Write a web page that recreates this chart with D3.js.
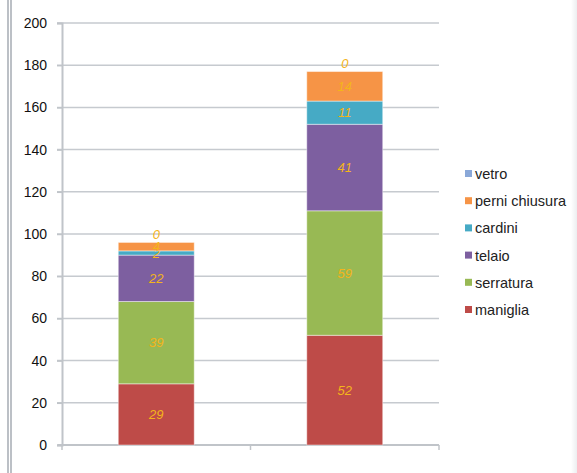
<!DOCTYPE html>
<html>
<head>
<meta charset="utf-8">
<script src="https://cdn.jsdelivr.net/npm/d3@7"></script>
<style>
    html, body { margin: 0; padding: 0; background: #fff; }
    #chart { width: 577px; height: 473px; }
</style>
</head>
<body>
<div id="chart"></div>
<script>
// chart data
const categories = ["1", "2"];
const seriesNames = ["maniglia", "serratura", "telaio", "cardini", "perni chiusura", "vetro"];
const maniglia = [29, 52];
const serratura = [39, 59];
const telaio = [22, 41];
const cardini = [2, 11];
const perni = [4, 14];
const vetro = [0, 0];
const yTicks = [0, 20, 40, 60, 80, 100, 120, 140, 160, 180, 200];

const seriesColors = ["#be4b48", "#98b954", "#7d5fa0", "#46aac5", "#f69446", "#8aa8d8"];
const seriesValues = [maniglia, serratura, telaio, cardini, perni, vetro];

const width = 577, height = 473;
const margin = { top: 23, right: 138, bottom: 28, left: 62 };
const innerWidth = width - margin.left - margin.right;
const innerHeight = height - margin.top - margin.bottom;

// build rows for d3.stack
const rows = categories.map((c, i) => {
    const row = { cat: c };
    seriesNames.forEach((s, j) => { row[s] = seriesValues[j][i]; });
    return row;
});
const stacked = d3.stack().keys(seriesNames)(rows);

const svg = d3.select("#chart")
    .append("svg")
    .attr("width", width)
    .attr("height", height)
    .style("font-family", "'Liberation Sans', Arial, sans-serif");

svg.append("rect").attr("width", width).attr("height", height).attr("fill", "#fff");

// faint shading on the right edge
const grad = svg.append("defs").append("linearGradient").attr("id", "edge");
grad.append("stop").attr("offset", "0%").attr("stop-color", "#fff");
grad.append("stop").attr("offset", "100%").attr("stop-color", "#eceef0");
svg.append("rect").attr("x", 571).attr("width", 6).attr("height", height).attr("fill", "url(#edge)");

// double line on the left edge
[8, 11].forEach(x => {
    svg.append("line")
        .attr("x1", x).attr("x2", x)
        .attr("y1", 0).attr("y2", height)
        .attr("stroke", "#bcc0c6")
        .attr("stroke-width", 2);
});

const chart = svg.append("g")
    .attr("transform", `translate(${margin.left}, ${margin.top})`);

const x = d3.scaleBand()
    .domain(categories)
    .range([0, innerWidth])
    .paddingInner(0.597)
    .paddingOuter(0.2985);

const y = d3.scaleLinear()
    .domain([0, 200])
    .range([innerHeight, 0]);

// gridlines
chart.append("g")
    .selectAll("line")
    .data(yTicks)
    .enter()
    .append("line")
    .attr("x1", -5)
    .attr("x2", innerWidth)
    .attr("y1", d => y(d))
    .attr("y2", d => y(d))
    .attr("stroke", "#c6cacf")
    .attr("stroke-width", 1.5);

// Y axis
const yAxis = chart.append("g")
    .call(d3.axisLeft(y).tickValues(yTicks).tickSize(5).tickPadding(10));
yAxis.select(".domain").attr("stroke", "#c0c4c9").attr("stroke-width", 2);
yAxis.selectAll(".tick line").attr("stroke", "#c0c4c9").attr("stroke-width", 1.5);
yAxis.selectAll("text")
    .style("font-size", "14px")
    .style("font-family", "'Liberation Sans', Arial, sans-serif")
    .attr("fill", "#111");

// X axis line with separator ticks
const xLine = chart.append("g").attr("transform", `translate(0, ${innerHeight})`);
xLine.append("line")
    .attr("x1", -4).attr("x2", innerWidth)
    .attr("stroke", "#c0c4c9").attr("stroke-width", 2);
xLine.selectAll(".sep")
    .data([0, innerWidth / 2, innerWidth])
    .enter()
    .append("line")
    .attr("x1", d => d).attr("x2", d => d)
    .attr("y1", 0).attr("y2", 5)
    .attr("stroke", "#c0c4c9").attr("stroke-width", 1.5);

// stacked bars
const layers = chart.selectAll(".layer")
    .data(stacked)
    .enter()
    .append("g")
    .attr("fill", (d, i) => seriesColors[i]);

layers.selectAll("rect")
    .data(d => d)
    .enter()
    .append("rect")
    .attr("x", d => x(d.data.cat))
    .attr("y", d => y(d[1]))
    .attr("width", x.bandwidth())
    .attr("height", d => y(d[0]) - y(d[1]))
    .attr("stroke", "rgba(255,255,255,0.45)")
    .attr("stroke-width", 1);

// value labels
layers.selectAll("text")
    .data(d => d.map(v => ({ v: v, key: d.key })))
    .enter()
    .append("text")
    .attr("x", d => x(d.v.data.cat) + x.bandwidth() / 2)
    .attr("y", d => {
        const val = d.v[1] - d.v[0];
        if (val === 0) return y(d.v[1]) - 8;
        return y((d.v[0] + d.v[1]) / 2);
    })
    .attr("dy", "0.35em")
    .attr("text-anchor", "middle")
    .attr("fill", "#f4b41a")
    .style("font-size", "13px")
    .style("font-style", "italic")
    .text(d => d.v[1] - d.v[0]);

// legend (reverse order, vetro on top)
const legend = svg.append("g")
    .attr("transform", "translate(465, 174)");

const legendItems = legend.selectAll("g")
    .data(seriesNames.slice().reverse())
    .enter()
    .append("g")
    .attr("transform", (d, i) => `translate(0, ${i * 27.2})`);

legendItems.append("rect")
    .attr("x", 0)
    .attr("y", -4)
    .attr("width", 7)
    .attr("height", 7)
    .attr("fill", d => seriesColors[seriesNames.indexOf(d)]);

legendItems.append("text")
    .attr("x", 10)
    .attr("dy", "0.35em")
    .attr("fill", "#222")
    .style("font-size", "14.5px")
    .text(d => d);
</script>
</body>
</html>
